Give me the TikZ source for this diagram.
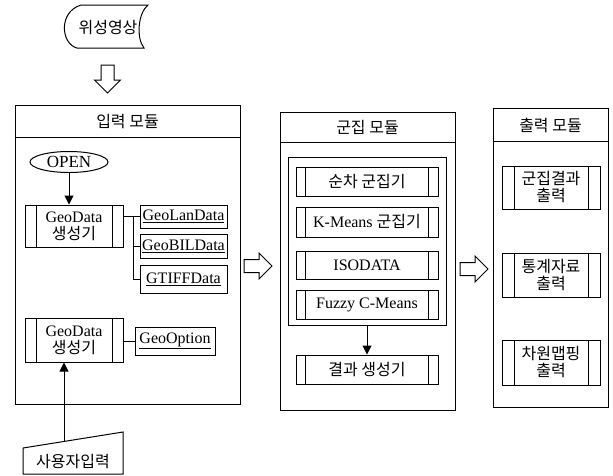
\documentclass[tikz,border=0pt]{standalone}
\usepackage{fontspec}
\setmainfont{Liberation Serif}
\newfontfamily\kr{Noto Sans CJK KR}
\usetikzlibrary{positioning,shapes,arrows.meta}

\tikzset{
	box/.style={draw, rectangle, inner sep=0pt, align=center},
	subproc/.style={box, path picture={
		\draw ([xshift=#1]path picture bounding box.north west) -- ([xshift=#1]path picture bounding box.south west)
			([xshift=-#1]path picture bounding box.north east) -- ([xshift=-#1]path picture bounding box.south east);}},
	arr/.style={-{Triangle[length=9pt,width=9pt]}},
	hollowarrow/.pic={\draw[line join=miter] (0,-6.5) -- (15,-6.5) -- (15,-13) -- (28,0) -- (15,13) -- (15,6.5) -- (0,6.5) -- cycle;}
}

\begin{document}
\begin{tikzpicture}[x=1pt, y=-1pt, line width=1pt, font=\fontsize{16}{17}\selectfont]
		\useasboundingbox (0,0) rectangle (613,475);
		% modules
		\begin{scope}[every node/.style={box}]
			\node[minimum width=225pt, minimum height=299pt] (inmod) at (127.5,254.5) {};
			\node[minimum width=175pt, minimum height=298pt] (clmod) at (367.5,261) {};
			\node[minimum width=115pt, minimum height=299pt] (outmod) at (550.5,257.5) {};
			\node[minimum width=158pt, minimum height=168pt] (grp) at (367,241) {};
		\end{scope}
		\draw ([yshift=-33pt]inmod.north west) -- ([yshift=-33pt]inmod.north east);
		\draw ([yshift=-31pt]clmod.north west) -- ([yshift=-31pt]clmod.north east);
		\draw ([yshift=-34pt]outmod.north west) -- ([yshift=-34pt]outmod.north east);
		\node (intitle) at (127.5,121.5) {\kr 입력 모듈};
		\node (cltitle) at (367.5,127.5) {\kr 군집 모듈};
		\node (outtitle) at (550.5,125) {\kr 출력 모듈};
		
		% input
		\node (sat) at (108,28) {\kr 위성영상};
		\draw (81,5) -- (148,5) .. controls (138,13) and (136,38) .. (144,48) -- (77,48) .. controls (61,44) and (58,12) .. (81,5);
		\pic[rotate=-90] at (107.5,65) {hollowarrow};
		\node[draw, ellipse, minimum width=78pt, minimum height=21pt, inner sep=0pt, font=\fontsize{17}{17}\selectfont] (open) at (69,162) {OPEN};
		\begin{scope}[every node/.style={subproc=11pt, minimum width=98pt}]
			\node[minimum height=42pt] (gd1) at (74,226) {GeoData\\{\kr 생성기}};
			\node[minimum height=44pt] (gd2) at (74,340) {GeoData\\{\kr 생성기}};
		\end{scope}
		\begin{scope}[every node/.style={box, minimum width=87pt}]
			\node[minimum height=23pt] (lan) at (183.5,216.5) {\underline{GeoLanData}};
			\node[minimum height=24pt] (bil) at (183.5,246) {\underline{GeoBILData}};
			\node[minimum height=28pt] (tiff) at (183.5,279) {\underline{GTIFFData}};
			\node[minimum width=80pt, minimum height=28pt] (opt) at (175,341) {\underline{GeoOption}};
		\end{scope}
		\draw[arr] (open) -- (open |- gd1.north);
		\coordinate (br) at (133,0);
		\draw (gd1.east |- lan) -- (lan.west);
		\draw (br |- lan) -- (br |- tiff) -- (tiff.west);
		\draw (br |- bil) -- (bil.west);
		\draw (gd2.east |- opt) -- (opt.west);
		\node (usr) at (73,462) {\kr 사용자입력};
		\draw (23,474) -- (23,448) -- (123,432) -- (123,474) -- cycle;
		\coordinate (usrtop) at (64,441.4);
		\draw[arr] (usrtop) -- (usrtop |- gd2.south);
		
		% clustering
		\pic at (244,266) {hollowarrow};
		\begin{scope}[every node/.style={subproc=9.5pt, minimum width=142pt}]
			\node[minimum height=29pt] (seq) at (367,181.5) {\kr 순차 군집기};
			\node[minimum height=30pt] (km) at (367,222) {K-Means {\kr 군집기}};
			\node[minimum height=28pt] (iso) at (367,265) {ISODATA};
			\node[minimum height=29pt] (fcm) at (367,304.5) {Fuzzy C-Means};
			\node[minimum height=29pt] (res) at (367,369.5) {\kr 결과 생성기};
		\end{scope}
		\draw[arr] (grp.south) -- (res.north);
		
		% output
		\pic at (460,269) {hollowarrow};
		\begin{scope}[every node/.style={subproc=12pt, minimum width=98pt}]
			\node[minimum height=43pt] (o1) at (551,187.5) {{\kr 군집결과}\\{\kr 출력}};
			\node[minimum height=44pt] (o2) at (551,275) {{\kr 통계자료}\\{\kr 출력}};
			\node[minimum height=45pt] (o3) at (551,362.5) {{\kr 차원맵핑}\\{\kr 출력}};
		\end{scope}
\end{tikzpicture}
\end{document}
